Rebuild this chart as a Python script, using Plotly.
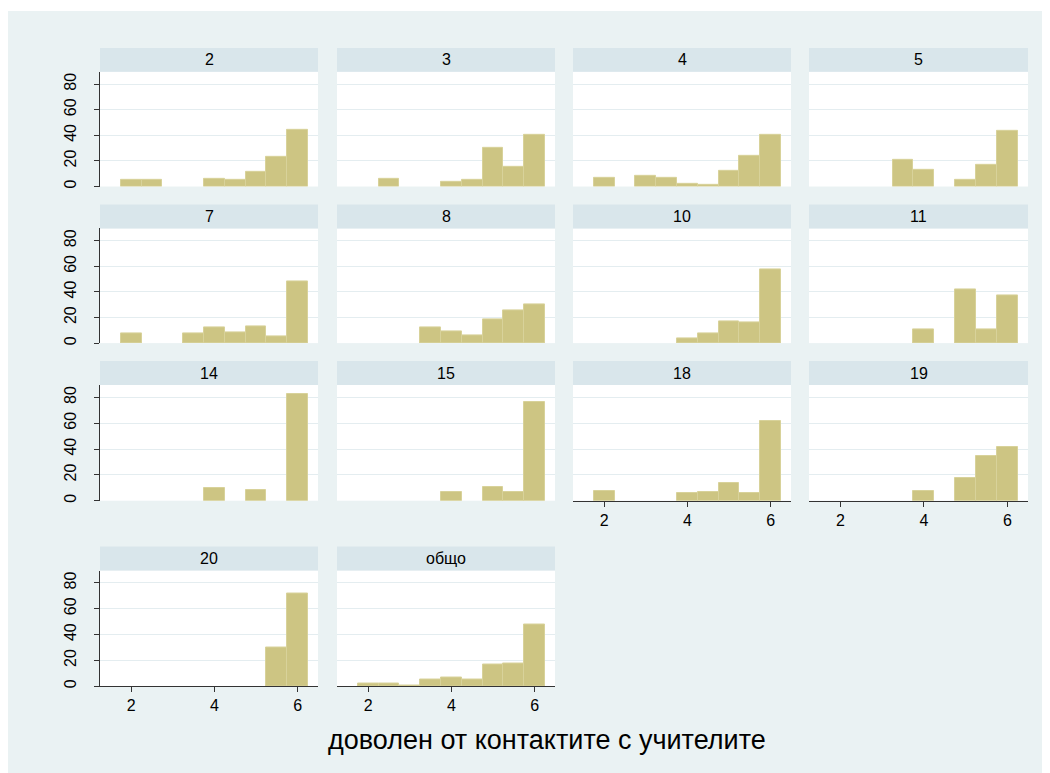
import plotly.graph_objects as go

# histogram bins (centres, width 0.5) and percent per group
bin_centers = [2, 2.5, 3, 3.5, 4, 4.5, 5, 5.5, 6]
groups = ['2', '3', '4', '5', '7', '8', '10', '11', '14', '15', '18', '19', '20', 'общо']

pct_2 = [5.0, 5.0, 0, 0, 6.0, 5.0, 11.5, 23.2, 44.1]
pct_3 = [0, 5.7, 0, 0, 3.7, 5.5, 30.5, 15.1, 40.5]
pct_4 = [7.0, 0, 8.1, 7.0, 1.8, 1.0, 12.0, 23.8, 40.0]
pct_5 = [0, 0, 0, 21.1, 13.1, 0, 5.5, 16.7, 43.6]
pct_7 = [7.3, 0, 0, 7.3, 12.2, 8.1, 13.2, 5.2, 48.1]
pct_8 = [0, 0, 0, 12.2, 8.8, 6.2, 18.2, 25.7, 30.1]
pct_10 = [0, 0, 0, 0, 3.6, 7.5, 16.6, 15.8, 57.7]
pct_11 = [0, 0, 0, 0, 10.6, 0, 42.1, 10.6, 37.1]
pct_14 = [0, 0, 0, 0, 10.2, 0, 8.3, 0, 82.6]
pct_15 = [0, 0, 0, 0, 6.8, 0, 10.7, 6.8, 76.6]
pct_18 = [7.8, 0, 0, 0, 5.7, 7.0, 13.8, 5.7, 61.5]
pct_19 = [0, 0, 0, 0, 7.8, 0, 17.2, 34.9, 41.7]
pct_20 = [0, 0, 0, 0, 0, 0, 0, 29.6, 71.7]
pct_total = [2.3, 1.8, 0.8, 4.9, 7.0, 4.9, 16.9, 17.4, 47.5]

values = [pct_2, pct_3, pct_4, pct_5, pct_7, pct_8, pct_10, pct_11,
          pct_14, pct_15, pct_18, pct_19, pct_20, pct_total]

x_ticks = [2, 4, 6]
y_ticks = [0, 20, 40, 60, 80]
x_title = 'доволен от контактите с учителите'

OFF = 8  # page body margin of the html page
W, H = 1050 - OFF, 773 - OFF
BG = '#EAF2F3'
STRIP = '#D9E6EB'
BAR = '#CDC583'
EDGE = '#D8D29A'
AXIS = '#333333'
FONT = 'Arial, Liberation Sans, sans-serif'


def px_x(p):
    return (p - OFF) / W


def px_y(p):
    return 1 - (p - OFF) / H


# panel boxes in (screen) pixels
col_px = [(100, 318), (337, 555), (573, 791), (809, 1028)]
row_px = [(72, 187), (229, 344), (386, 502), (572, 688)]
strip_h = 24
with_xaxis = {'18', '19', '20', 'общо'}

fig = go.Figure()
shapes = []
annotations = []

for i, (g, v) in enumerate(zip(groups, values)):
    r, c = divmod(i, 4)
    n = i + 1
    sfx = '' if n == 1 else str(n)
    xa, ya = 'x' + sfx, 'y' + sfx
    x0, x1 = col_px[c]
    y0, y1 = row_px[r]
    show_x = g in with_xaxis
    show_y = c == 0

    fig.add_trace(go.Bar(
        x=bin_centers, y=[y if y > 0 else None for y in v], width=0.5,
        xaxis=xa, yaxis=ya,
        marker=dict(color=BAR, line=dict(color=EDGE, width=1)),
        hoverinfo='x+y'))

    fig.layout['xaxis' + sfx] = dict(
        domain=[px_x(x0), px_x(x1)], anchor=ya, range=[1.25, 6.49],
        showgrid=False, zeroline=False,
        showline=show_x, linecolor=AXIS, linewidth=1,
        ticks='outside' if show_x else '', ticklen=5, tickcolor=AXIS,
        showticklabels=show_x, tickvals=x_ticks,
        tickfont=dict(size=16, color='black', family=FONT))
    fig.layout['yaxis' + sfx] = dict(
        domain=[px_y(y1), px_y(y0)], anchor=xa, range=[0, 89.6],
        showgrid=True, gridcolor='#E4EDF0', gridwidth=1, zeroline=False,
        showline=show_y, linecolor=AXIS, linewidth=1,
        ticks='outside' if show_y else '', ticklen=5, tickcolor=AXIS,
        showticklabels=show_y, tickvals=y_ticks, tickangle=-90,
        ticklabelstandoff=12,
        tickfont=dict(size=16, color='black', family=FONT))

    # strip header
    shapes.append(dict(type='rect', xref='paper', yref='paper',
                       x0=px_x(x0), x1=px_x(x1),
                       y0=px_y(y0), y1=px_y(y0 - strip_h),
                       fillcolor=STRIP, line=dict(width=0), layer='below'))
    annotations.append(dict(text=g, xref='paper', yref='paper',
                            x=px_x((x0 + x1) / 2), y=px_y(y0 - strip_h / 2),
                            xanchor='center', yanchor='middle', showarrow=False,
                            font=dict(size=16, color='black', family=FONT)))

# white band on top (body margin gives the rest)
shapes.append(dict(type='rect', xref='paper', yref='paper', x0=0, x1=1,
                   y0=px_y(11), y1=1, fillcolor='white', line=dict(width=0)))

annotations.append(dict(text=x_title, xref='paper', yref='paper',
                        x=px_x(547), y=px_y(742), xanchor='center', yanchor='middle',
                        showarrow=False, font=dict(size=27, color='black', family=FONT)))

fig.update_layout(
    width=W, height=H,
    margin=dict(l=0, r=0, t=0, b=0),
    paper_bgcolor=BG, plot_bgcolor='white',
    showlegend=False, bargap=0,
    shapes=shapes, annotations=annotations,
    font=dict(family=FONT),
)

fig.write_html('out.html')
